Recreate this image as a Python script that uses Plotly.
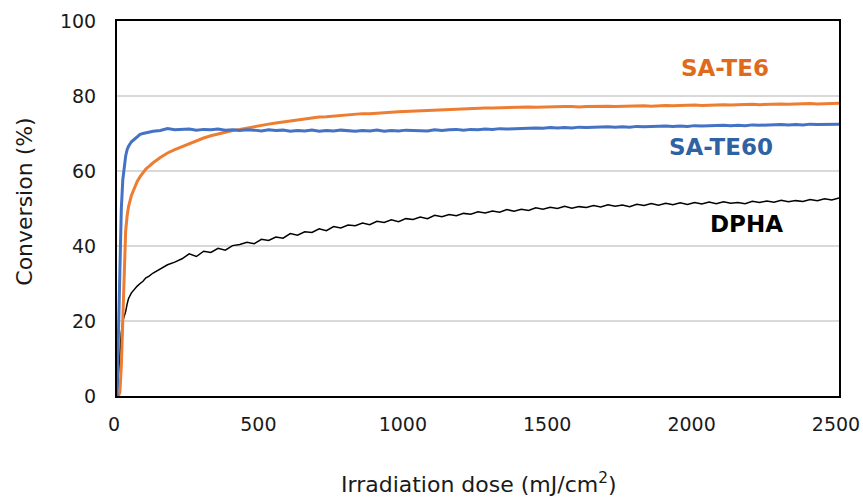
import plotly.graph_objects as go

# ---------------- data ----------------
dose_early = [0, 5, 10, 15, 20, 25, 30, 35, 40, 50, 60, 70, 80, 90, 100, 110, 125, 150, 175, 200]
dose_late = list(range(225, 2501, 25))
dose = dose_early + dose_late

sa_te60 = [0, 20, 40, 50, 57.6, 61.5, 64, 65.7, 66.6, 67.8, 68.5, 69.2, 69.8, 70.0, 70.2, 70.4, 70.6, 70.8, 71.3, 71.0,
           71.1, 71.2, 70.9, 71.1, 71.0, 71.2, 70.9, 71.0,
           70.8, 71.0, 70.9, 70.7, 71.0, 70.8, 70.9, 70.6,
           70.8, 70.7, 70.9, 70.6, 70.8, 70.7, 70.9, 70.7,
           70.6, 70.8, 70.7, 70.9, 70.6, 70.8, 70.7, 70.9,
           70.8, 70.9, 70.7, 71.0, 70.8, 71.0, 71.1, 70.9,
           71.1, 71.0, 71.2, 71.1, 71.3, 71.2, 71.3, 71.4,
           71.3, 71.5, 71.4, 71.6, 71.5, 71.6, 71.5, 71.7,
           71.6, 71.7, 71.6, 71.8, 71.7, 71.8, 71.7, 71.9,
           71.8, 71.9, 71.8, 72.0, 71.9, 72.0, 71.9, 72.1,
           72.0, 72.1, 72.0, 72.2, 72.1, 72.2, 72.1, 72.3,
           72.2, 72.3, 72.2, 72.4, 72.3, 72.4, 72.3, 72.5,
           72.4, 72.5, 72.4, 72.5]

sa_te6 = [0, 0, 1, 8, 20, 35, 44, 48, 50.5, 53.5, 55.5, 57.2, 58.5, 59.6, 60.5, 61.2, 62.2, 63.6, 64.8, 65.7,
          66.5, 67.4, 68.1, 68.8, 69.4, 69.9, 70.3, 70.8,
          71.1, 71.5, 71.8, 72.2, 72.5, 72.8, 73.1, 73.4,
          73.7, 73.9, 74.2, 74.4, 74.5, 74.7, 74.9, 75.0,
          75.1, 75.3, 75.3, 75.5, 75.6, 75.7, 75.8, 75.9,
          76.0, 76.1, 76.2, 76.3, 76.3, 76.5, 76.5, 76.6,
          76.6, 76.7, 76.8, 76.8, 76.9, 76.9, 77.0, 77.0,
          77.1, 77.0, 77.1, 77.2, 77.1, 77.2, 77.2, 77.1,
          77.2, 77.3, 77.2, 77.3, 77.2, 77.3, 77.4, 77.3,
          77.4, 77.3, 77.4, 77.5, 77.4, 77.5, 77.5, 77.6,
          77.5, 77.6, 77.6, 77.7, 77.6, 77.7, 77.7, 77.8,
          77.7, 77.8, 77.8, 77.9, 77.8, 77.9, 77.9, 78.0,
          77.9, 78.0, 78.0, 78.1]

dpha = [0, 6, 13, 17, 20, 21.2, 22.5, 24.5, 26, 27.5, 28.5, 29.3, 30.0, 30.6, 31.5, 31.9, 32.8, 33.8, 35.0, 35.7,
        36.6, 37.9, 37.2, 38.6, 38.3, 39.4, 38.9, 40.1,
        40.4, 41.0, 40.6, 41.8, 41.5, 42.4, 42.1, 43.3,
        42.9, 43.8, 43.6, 44.6, 44.1, 45.2, 44.8, 45.6,
        45.4, 46.1, 45.7, 46.6, 46.3, 47.0, 46.5, 47.3,
        47.1, 47.7, 47.3, 48.2, 47.8, 48.4, 48.1, 48.7,
        48.5, 49.1, 48.8, 49.3, 49.0, 49.7, 49.3, 49.8,
        49.5, 50.2, 49.8, 50.3, 50.0, 50.6, 50.1, 50.5,
        50.3, 50.8, 50.4, 51.0, 50.6, 50.9, 50.5, 51.1,
        50.8, 51.3, 50.9, 51.4, 51.0, 51.5, 51.1, 51.6,
        51.2, 51.7, 51.3, 51.8, 51.4, 51.6, 51.3, 51.9,
        51.6, 52.0, 51.7, 52.2, 51.8, 52.1, 51.9, 52.4,
        52.1, 52.6, 52.3, 52.8]

x_ticks = [0, 500, 1000, 1500, 2000, 2500]
y_ticks = [0, 20, 40, 60, 80, 100]

series_labels = ["SA-TE6", "SA-TE60", "DPHA"]
label_pos_x = [2106, 2091, 2181]
label_pos_y = [87.5, 66.4, 46.0]

FONT = "DejaVu Sans"

fig = go.Figure()
fig.add_trace(go.Scatter(x=dose, y=dpha, mode="lines", line=dict(color="#000000", width=1.5), name="DPHA"))
fig.add_trace(go.Scatter(x=dose, y=sa_te6, mode="lines", line=dict(color="#ED7D31", width=3), name="SA-TE6"))
fig.add_trace(go.Scatter(x=dose, y=sa_te60, mode="lines", line=dict(color="#4472C4", width=3), name="SA-TE60"))

label_colors = ["#E06A1B", "#2E62A3", "#000000"]
for t, lx, ly, c in zip(series_labels, label_pos_x, label_pos_y, label_colors):
    fig.add_annotation(x=lx, y=ly, xref="x", yref="y", text="<b>%s</b>" % t, showarrow=False,
                       xanchor="center", yanchor="middle",
                       font=dict(family=FONT, size=23, color=c))

fig.add_annotation(x=0.501, y=-0.231, xref="paper", yref="paper", xanchor="center", yanchor="middle",
                   text="Irradiation dose (mJ/cm<sup>2</sup>)", showarrow=False,
                   font=dict(family=FONT, size=22, color="#1a1a1a"))
fig.add_annotation(x=-0.128, y=0.517, xref="paper", yref="paper", xanchor="center", yanchor="middle",
                   textangle=-90, text="Conversion (%)", showarrow=False,
                   font=dict(family=FONT, size=22, color="#1a1a1a"))

fig.update_layout(
    width=863, height=498,
    margin=dict(l=117, r=24, t=21, b=102, autoexpand=False),
    paper_bgcolor="white", plot_bgcolor="white",
    showlegend=False,
    font=dict(family=FONT, size=19, color="#1a1a1a"),
)
fig.update_xaxes(range=[0, 2500], tickvals=x_ticks, showgrid=False, zeroline=False, automargin=False,
                 showline=True, mirror=True, linecolor="black", linewidth=2,
                 ticks="outside", ticklen=10, tickcolor="rgba(0,0,0,0)",
                 ticklabeloverflow="allow", ticklabelshift=-3,
                 tickfont=dict(family=FONT, size=19, color="#1a1a1a"))
fig.update_yaxes(range=[0, 100], tickvals=y_ticks, showgrid=True, gridcolor="#D9D9D9", gridwidth=1.5,
                 zeroline=False, automargin=False, showline=True, mirror=True, linecolor="black", linewidth=2,
                 ticks="outside", ticklen=15, tickcolor="rgba(0,0,0,0)",
                 ticklabeloverflow="allow",
                 tickfont=dict(family=FONT, size=19, color="#1a1a1a"))

fig.write_html("out.html", config={"displayModeBar": False},
               post_script="document.body.style.margin='0px';document.body.style.overflow='hidden';")
